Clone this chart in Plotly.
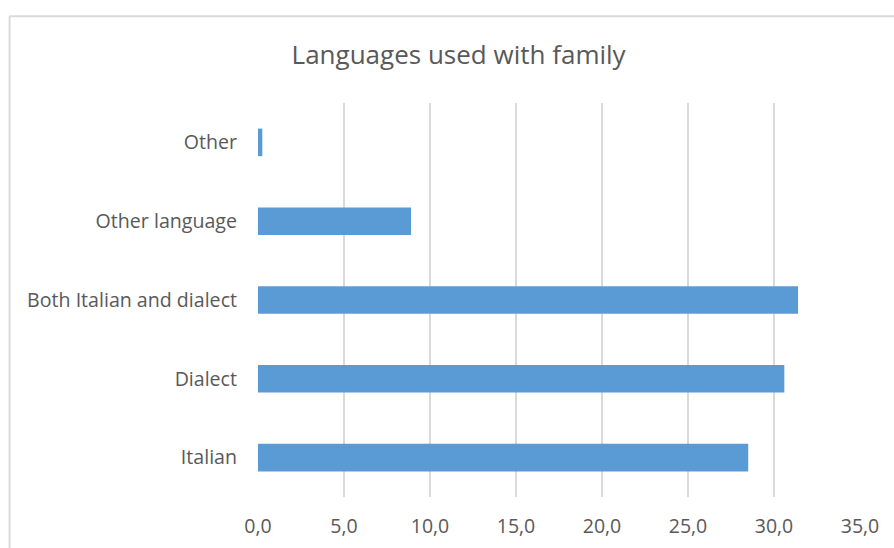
import plotly.graph_objects as go

categories = ["Italian", "Dialect", "Both Italian and dialect", "Other language", "Other"]
values = [28.5, 30.6, 31.4, 8.9, 0.25]
tick_vals = [0, 5, 10, 15, 20, 25, 30, 35]

fig = go.Figure(go.Bar(
    x=values, y=categories, orientation="h",
    marker=dict(color="#5b9bd5", line=dict(width=0)),
))

fig.update_layout(
    width=894, height=548,
    margin=dict(l=257.5, r=34.3, t=102.7, b=51),
    paper_bgcolor="white", plot_bgcolor="white",
    separators=",.",
    bargap=0.65,
    showlegend=False,
    font=dict(family="Open Sans, sans-serif", color="#595959", size=19),
    title=dict(text="Languages used with family", x=0.513, xanchor="center",
               y=1 - 55 / 548, yanchor="middle",
               font=dict(size=26, color="#595959")),
    xaxis=dict(range=[0, 35], tickvals=tick_vals, tickformat=".1f",
               showgrid=True, gridcolor="#d9d9d9", gridwidth=2,
               zeroline=False, showline=False, ticks="",
               tickfont=dict(size=19.5), automargin=False,
               ticklabelstandoff=15, fixedrange=True),
    yaxis=dict(categoryorder="array", categoryarray=categories,
               showgrid=False, zeroline=False, showline=False, ticks="",
               tickfont=dict(size=19.6), automargin=False,
               ticklabelstandoff=20),
    shapes=[
        dict(type="line", xref="paper", yref="paper",
             x0=(9 - 257.5) / (894 - 257.5 - 34.3), x1=(900 - 257.5) / (894 - 257.5 - 34.3),
             y0=(548 - 51 - 16) / (548 - 102.7 - 51), y1=(548 - 51 - 16) / (548 - 102.7 - 51),
             line=dict(color="#d9d9d9", width=2)),
        dict(type="line", xref="paper", yref="paper",
             x0=(9 - 257.5) / (894 - 257.5 - 34.3), x1=(9 - 257.5) / (894 - 257.5 - 34.3),
             y0=(548 - 51 - 16) / (548 - 102.7 - 51), y1=-0.2,
             line=dict(color="#d9d9d9", width=2)),
    ],
)

fig.write_html("out.html")
